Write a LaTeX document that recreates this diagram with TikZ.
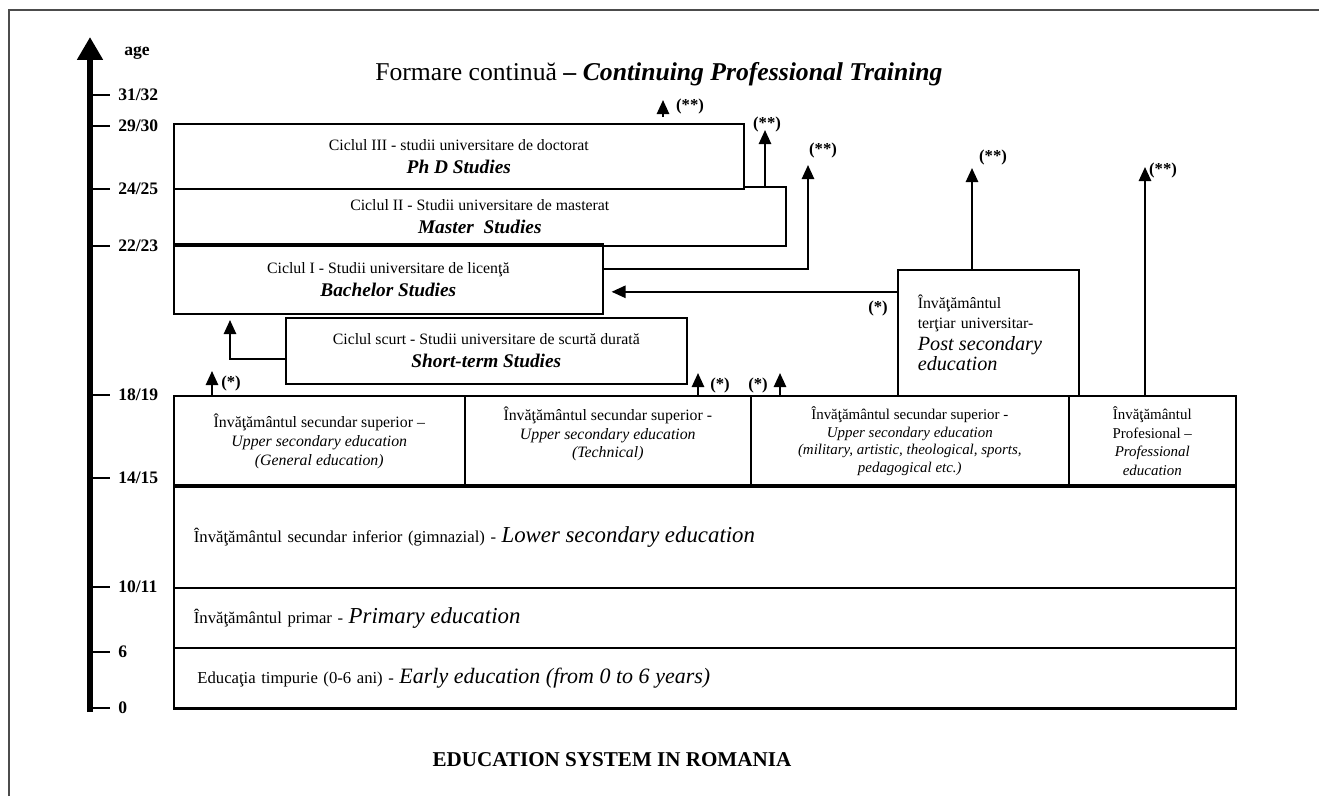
\documentclass[tikz,border=0pt]{standalone}
\usepackage{fontspec}
\setmainfont{Liberation Serif}
\usetikzlibrary{arrows.meta,positioning,calc}

\tikzset{
  box/.style={draw, line width=0.9pt, fill=white, inner sep=2pt, align=center, font=\fontsize{9}{11}\selectfont},
  boxsize/.style 2 args={minimum width=#1*0.02cm, minimum height=#2*0.02cm},
  flow/.style={line width=1.1pt, -{Triangle[width=7pt,length=8pt]}},
  note/.style={font=\bfseries\fontsize{9.5}{10}\selectfont, inner sep=0pt},
  agelbl/.style={font=\bfseries\fontsize{10}{11}\selectfont, inner sep=0pt},
  tick/.style={line width=1.4pt},
  axis/.style={line width=3.4pt, -{Triangle[width=14pt,length=13pt]}},
  frameline/.style={line width=1.2pt, black!70},
  thickline/.style={line width=1.8pt}
}

\begin{document}
\begin{tikzpicture}[x=0.02cm, y=-0.02cm]
    \useasboundingbox (0,0) rectangle (1319,796);

    \draw[frameline] (9,796) -- (9,10) -- (1319,10);

    % age axis
    \draw[axis] (90,712) -- (90,37);
    \node[agelbl, anchor=west] (age) at (124,53) {age};
    \foreach \yy/\lab in {95/{31/32}, 126/{29/30}, 189/{24/25}, 246/{22/23}, 395/{18/19}, 478/{14/15}, 587/{10/11}, 652/6, 708/0}{
        \draw[tick] (90,\yy) -- (110,\yy) node[agelbl, right=4pt] (a\yy) {\lab};
    }

    \node[anchor=base west, inner sep=0pt, font=\fontsize{14.6}{16}\selectfont] (lifelong) at (375,80)
        {Formare continu\u{a} \textbf{--} \textbf{\textit{Continuing Professional Training}}};

    % university
    \node[box, boxsize={612}{59}, anchor=north west] (master) at (173,186)
        {Ciclul II - Studii universitare de masterat\\[2pt] \fontsize{11}{14}\selectfont\bfseries\itshape Master~ Studies};
    \node[box, boxsize={570}{65}, anchor=north west] (phd) at (173,123)
        {Ciclul III - studii universitare de doctorat\\[2pt] \fontsize{11}{14}\selectfont\bfseries\itshape Ph D Studies};
    \node[box, boxsize={429}{68}, anchor=north west] (bach) at (173,245)
        {Ciclul I - Studii universitare de licenţă\\[2pt] \fontsize{11}{14}\selectfont\bfseries\itshape Bachelor Studies};
    \node[box, boxsize={401}{66}, anchor=north west] (short) at (285,317)
        {Ciclul scurt - Studii universitare de scurtă durată\\[2pt] \fontsize{11}{14}\selectfont\bfseries\itshape Short-term Studies};
    \node[box, boxsize={181}{126}, anchor=north west, align=left, text width=2.82cm, inner xsep=0.4cm] (postsec) at (897,269)
        {Învăţământul\\ terţiar universitar-\\ \fontsize{11.5}{13}\selectfont\itshape Post secondary\\ education};

    % upper secondary
    \node[box, boxsize={291}{91}, anchor=north west, font=\fontsize{9}{10.8}\selectfont] (gen) at (173,395)
        {Învăţământul secundar superior --\\ \itshape Upper secondary education\\ \itshape (General education)};
    \node[box, boxsize={286}{91}, anchor=north west, font=\fontsize{9}{10.5}\selectfont] (tech) at (464,395)
        {Învăţământul secundar superior -\\ \itshape Upper secondary education\\ \itshape (Technical)\\[-0.5pt]};
    \node[box, boxsize={318}{91}, anchor=north west, font=\fontsize{8.5}{10}\selectfont] (other) at (750,395)
        {Învăţământul secundar superior -\\ \itshape Upper secondary education\\ \itshape (military, artistic, theological, sports,\\ \itshape pedagogical etc.)};
    \node[box, boxsize={167}{91}, anchor=north west, font=\fontsize{8.5}{10.5}\selectfont] (prof) at (1068,395)
        {Învăţământul\\ Profesional --\\ \itshape Professional\\ \itshape education};

    % compulsory and early education
    \node[box, boxsize={1062}{101}, anchor=north west, align=left, text width=20.44cm, inner xsep=0.4cm, font=\fontsize{9.5}{11}\selectfont] (lowsec) at (173,486)
        {Învăţământul secundar inferior (gimnazial) - {\fontsize{13}{15}\selectfont\itshape Lower secondary education}};
    \node[box, boxsize={1062}{60}, anchor=north west, align=left, text width=20.44cm, inner xsep=0.4cm, font=\fontsize{9.5}{11}\selectfont] (primary) at (173,587)
        {Învăţământul primar - {\fontsize{13}{15}\selectfont\itshape Primary education}};
    \node[box, boxsize={1062}{60}, anchor=north west, align=left, text width=20.3cm, inner xsep=0.47cm, font=\fontsize{9.5}{11}\selectfont] (early) at (173,647)
        {Educaţia timpurie (0-6 ani) - {\fontsize{12.5}{15}\selectfont\itshape Early education (from 0 to 6 years)}};
    \draw[thickline] (bach.north west) -- (bach.north east);
    \draw[thickline] (lowsec.north west) -- (lowsec.north east);
    \draw[thickline] (early.south west) -- (early.south east);

    % paths onward
    \coordinate (tipA) at (663,100);
    \coordinate (tipB) at (765,130);
    \coordinate (tipC) at (808,165);
    \coordinate (tipD) at (972,168);
    \coordinate (tipE) at (1145,167);
    \coordinate (tipF) at (230,320);
    \coordinate (tipG) at (212,371);
    \coordinate (tipH) at (698,373);
    \coordinate (tipI) at (780,373);
    \coordinate (bachin) at ([xshift=0.16cm, yshift=-0.24cm]bach.east);

    \draw[flow] ($(phd.north -| tipA)+(0,-6)$) -- (tipA);
    \draw[flow] (master.north -| tipB) -- (tipB);
    \draw[flow] ([yshift=0.22cm]bach.east) -| (tipC);
    \draw[flow] (postsec.north -| tipD) -- (tipD);
    \draw[flow] (prof.north -| tipE) -- (tipE);
    \draw[flow] ([yshift=-0.16cm]short.west) -| (tipF);
    \draw[flow] (gen.north -| tipG) -- (tipG);
    \draw[flow] (tech.north -| tipH) -- (tipH);
    \draw[flow] (other.north -| tipI) -- (tipI);
    \draw[flow] (postsec.west |- bachin) -- (bachin);

    \node[note] (nA) at (690,106) {(**)};
    \node[note] (nB) at (767,124) {(**)};
    \node[note] (nC) at (823,150) {(**)};
    \node[note] (nD) at (993,157) {(**)};
    \node[note] (nE) at (1163,170) {(**)};
    \node[note] (nG) at (231,383) {(*)};
    \node[note] (nH) at (720,385) {(*)};
    \node[note] (nI) at (758,385) {(*)};
    \node[note] (nP) at (878,308) {(*)};

    \node[font=\bfseries\fontsize{12}{14}\selectfont] (caption) at (612,760) {EDUCATION SYSTEM IN ROMANIA};
\end{tikzpicture}
\end{document}
